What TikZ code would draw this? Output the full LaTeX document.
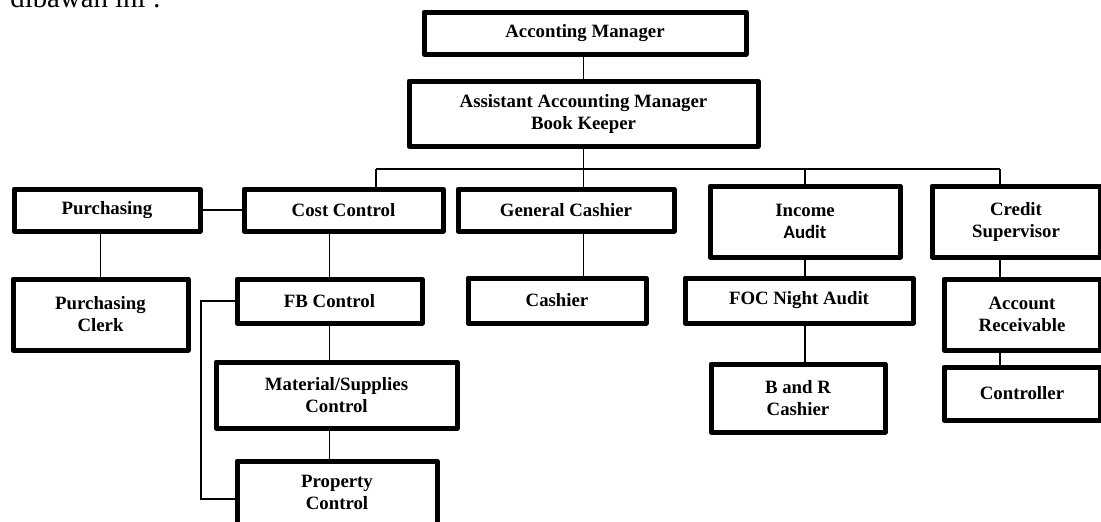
\documentclass[tikz,border=0pt]{standalone}
\usepackage{fontspec}
\setmainfont{Liberation Serif}
\newfontfamily\auditfont{Carlito}
\usepackage{tikz}
\usetikzlibrary{positioning}
\tikzset{
    post/.style = {rectangle, draw, line width=2.5pt, line join=round, inner sep=0pt, align=center,
                   font=\fontsize{9.4}{11}\selectfont\bfseries},
    wh/.style 2 args = {minimum width=#1*0.5pt, minimum height=#2*0.5pt},
    link/.style = {line width=0.85pt},
    note/.style = {anchor=base west, inner sep=0pt, font=\fontsize{14.4}{16}\selectfont}}

\begin{document}
\begin{tikzpicture}[x=0.5pt,y=-0.5pt]
    \useasboundingbox (0,0) rectangle (1101,521);
    \clip (0,0) rectangle (1101,521);
    \node[note] (intro) at (10,7) {dibawah ini :};

    \node[post,wh={322}{42}] (acct) at (585,33) {Acconting Manager};
    \node[post,wh={349}{65}] (asst) at (583.5,113.5) {Assistant Accounting Manager\\Book Keeper};

    \node[post,wh={186}{42}] (purch) at (107,210) {Purchasing};
    \node[post,wh={199}{42}] (cost) at (343.5,210) {Cost Control};
    \node[post,wh={216}{42}] (gencash) at (566,210) {General Cashier};
    \node[post,wh={190}{71}] (income) at (805,221.5) {Income\\{\auditfont\bfseries Audit}};
    \node[post,wh={168}{71}] (credit) at (1016,221.5) {Credit\\Supervisor};

    \node[post,wh={175}{71}] (clerk) at (100.5,314.5) {Purchasing\\Clerk};
    \node[post,wh={185}{44}] (fb) at (329.5,301) {FB Control};
    \node[post,wh={178}{45}] (cashier) at (557,300.5) {Cashier};
    \node[post,wh={228}{45}] (foc) at (799,300.5) {FOC Night Audit};
    \node[post,wh={156}{71}] (recv) at (1022,314.5) {Account\\Receivable};

    \node[post,wh={241}{66}] (mat) at (336.5,395) {Material/Supplies\\Control};
    \node[post,wh={174}{68}] (bandr) at (798,398) {B and R\\Cashier};
    \node[post,wh={156}{53}] (ctrl) at (1022,393.5) {Controller};
    \node[post,wh={200}{63}] (prop) at (337,492.5) {Property\\Control};

    \coordinate (busL) at (376,169);
    \coordinate (busR) at (1000,169);
    \coordinate (loop) at (201,499);

    \draw[link] (asst.north) -- (asst.north |- acct.south);
    \draw[link] (asst.south) -- (asst.south |- gencash.north);
    \draw[link] (busL) -- (busR);
    \draw[link] (busL) -- (busL |- cost.north);
    \draw[link] (income.north |- busL) -- (income.north);
    \draw[link] (busR) -- (busR |- credit.north);

    \draw[link] (purch.east) -- (cost.west);
    \draw[link] (clerk.north) -- (clerk.north |- purch.south);
    \draw[link] (fb.north) -- (fb.north |- cost.south);
    \draw[link] (fb.south) -- (fb.south |- mat.north);
    \draw[link] (mat.south -| fb.south) -- (prop.north -| fb.south);
    \draw[link] (fb.west) -| (loop) -- (loop -| prop.west);

    \draw[link] (asst.south |- gencash.south) -- (asst.south |- cashier.north);
    \draw[link] (income.south) -- (income.south |- foc.north);
    \draw[link] (income.south |- foc.south) -- (income.south |- bandr.north);
    \draw[link] (busR |- credit.south) -- (busR |- recv.north);
    \draw[link] (busR |- recv.south) -- (busR |- ctrl.north);
\end{tikzpicture}
\end{document}
